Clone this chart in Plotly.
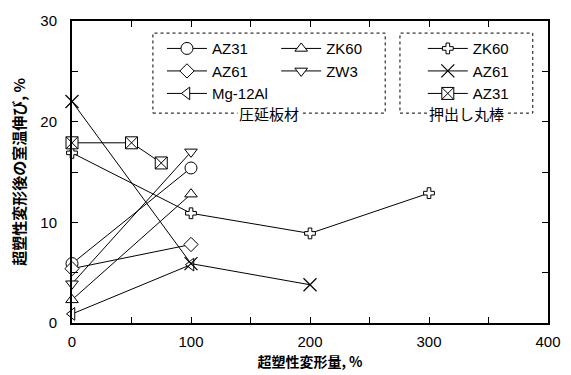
import plotly.graph_objects as go

# Rolled sheets (圧延板材)
x_rolled = [0, 100]
az31_r = [5.9, 15.4]
az61_r = [5.4, 7.8]
zk60_r = [2.3, 12.8]
zw3_r = [3.9, 17.0]
mg12al_r = [0.9, 5.8]

# Extruded bars (押出し丸棒)
x_zk60_e = [0, 100, 200, 300]
zk60_e = [16.9, 10.9, 8.9, 12.9]
x_az61_e = [0, 100, 200]
az61_e = [22.0, 5.9, 3.8]
x_az31_e = [0, 50, 75]
az31_e = [17.9, 17.9, 15.9]

FONT = "Liberation Sans, Arial, Noto Sans CJK JP"
JFONT = "Noto Sans CJK JP, Liberation Sans"

fig = go.Figure()

def add(x, y, name, symbol, size, legend):
    fig.add_trace(go.Scatter(
        x=x, y=y, name=name, mode="lines+markers",
        line=dict(color="black", width=1),
        marker=dict(symbol=symbol, size=size, color="white",
                    line=dict(color="black", width=1)),
        legend=legend, cliponaxis=False))

add(x_rolled, az31_r, "AZ31", "circle", 12, "legend")
add(x_rolled, az61_r, "AZ61", "diamond", 11, "legend")
add(x_rolled, mg12al_r, "Mg-12Al", "triangle-left", 11, "legend")
add(x_rolled, zk60_r, "ZK60", "triangle-up", 11, "legend2")
add(x_rolled, zw3_r, "ZW3", "triangle-down", 11, "legend2")
add(x_zk60_e, zk60_e, "ZK60", "cross", 9, "legend3")
fig.add_trace(go.Scatter(
    x=x_az61_e, y=az61_e, name="AZ61", mode="lines+markers",
    line=dict(color="black", width=1),
    marker=dict(symbol="x-thin", size=13, color="black",
                line=dict(color="black", width=1.2)),
    legend="legend3", cliponaxis=False))
add(x_az31_e, az31_e, "AZ31", "square-x", 12, "legend3")

axis_common = dict(
    showline=True, linecolor="black", linewidth=2, mirror="allticks",
    ticks="inside", ticklen=6, tickwidth=1, tickcolor="black",
    showgrid=False, zeroline=False, automargin=False,
    tickfont=dict(family=FONT, size=15, color="black"),
)

fig.update_xaxes(range=[0, 400], dtick=100, ticklabelstandoff=4,
                 minor=dict(dtick=50, ticks="inside", ticklen=6, tickcolor="black"),
                 title=dict(text="<b>超塑性変形量, %</b>", font=dict(family=JFONT, size=14, color="black"), standoff=8),
                 **axis_common)
fig.update_yaxes(range=[0, 30], dtick=10, ticklabelstandoff=10,
                 minor=dict(dtick=5, ticks="inside", ticklen=6, tickcolor="black"),
                 title=dict(text="<b>超塑性変形後の室温伸び, %</b>", font=dict(family=JFONT, size=15, color="black"), standoff=14),
                 **axis_common)

leg_common = dict(bgcolor="rgba(0,0,0,0)", borderwidth=0,
                  font=dict(family=FONT, size=15, color="black"),
                  xanchor="left", yanchor="top", tracegroupgap=0, itemwidth=40)

# page body has 8px margin -> figure is 8px smaller on each side
fig.update_layout(
    width=563, height=367,
    margin=dict(l=64, r=23, t=13, b=52),
    plot_bgcolor="white", paper_bgcolor="white",
    showlegend=True,
    legend=dict(x=0.189, y=0.963, **leg_common),
    legend2=dict(x=0.429, y=0.963, **leg_common),
    legend3=dict(x=0.737, y=0.963, **leg_common),
)

# legend boxes
for x0, x1 in [(0.170, 0.658), (0.689, 0.968)]:
    fig.add_shape(type="rect", xref="paper", yref="paper",
                  x0=x0, x1=x1, y0=0.695, y1=0.960,
                  line=dict(color="black", width=1, dash="dot"),
                  fillcolor="rgba(0,0,0,0)")

for xc, txt in [((0.170 + 0.658) / 2, "圧延板材"), ((0.689 + 0.968) / 2, "押出し丸棒")]:
    fig.add_annotation(x=xc, y=0.695, xref="paper", yref="paper",
                       text=txt, showarrow=False, bgcolor="white",
                       font=dict(family=JFONT, size=15, color="black"),
                       xanchor="center", yanchor="middle", borderpad=1)

fig.write_html("out.html")
